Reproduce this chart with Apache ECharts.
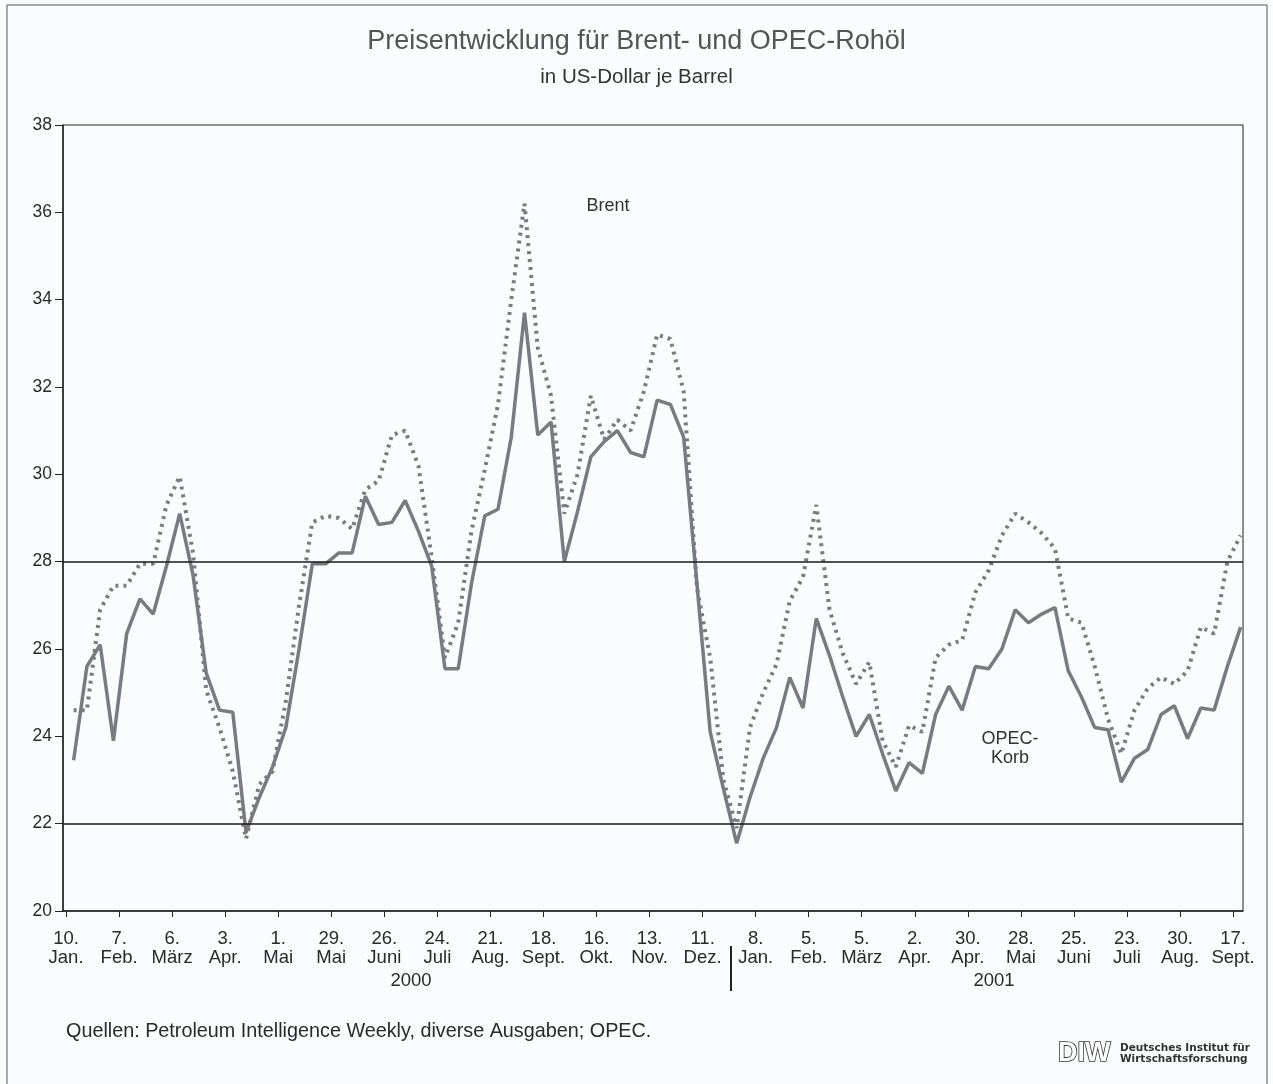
<!DOCTYPE html>
<html>
<head>
<meta charset="utf-8">
<script src="https://cdn.jsdelivr.net/npm/echarts@6/dist/echarts.min.js"></script>
<style>
  html, body { margin: 0; padding: 0; background: #fafcfd; }
  #chart01 { width: 1273px; height: 1084px; }
</style>
</head>
<body>
<div id="chart01"></div>
<script>
// Wochenwerte ab 14.1.2000 (Freitag), Achse in Wochen ab 10.1.2000
var tickDays   = ['10.', '7.', '6.', '3.', '1.', '29.', '26.', '24.', '21.', '18.', '16.', '13.',
                  '11.', '8.', '5.', '5.', '2.', '30.', '28.', '25.', '23.', '30.', '17.'];
var tickMonths = ['Jan.', 'Feb.', 'März', 'Apr.', 'Mai', 'Mai', 'Juni', 'Juli', 'Aug.', 'Sept.', 'Okt.', 'Nov.',
                  'Dez.', 'Jan.', 'Feb.', 'März', 'Apr.', 'Apr.', 'Mai', 'Juni', 'Juli', 'Aug.', 'Sept.'];
var years      = ['2000', '2001'];

var brent = [24.6, 24.6, 26.9, 27.45, 27.45, 27.95, 27.95, 29.3, 29.95, 28.2,
             25.05, 24.2, 23.2, 21.65, 22.9, 23.2, 24.8, 27.0, 28.9, 29.05,
             29.0, 28.75, 29.65, 29.85, 30.9, 31.0, 30.2, 28.1, 25.8, 26.6,
             28.7, 30.1, 31.6, 34.0, 36.2, 32.9, 31.8, 29.1, 30.0, 31.8,
             30.8, 31.25, 31.0, 31.9, 33.2, 33.1, 31.9, 27.4, 25.8, 23.0,
             21.9, 24.2, 25.0, 25.65, 27.1, 27.65, 29.3, 26.9, 25.9, 25.2,
             25.7, 23.9, 23.3, 24.25, 24.1, 25.8, 26.1, 26.2, 27.3, 27.8,
             28.6, 29.1, 28.9, 28.65, 28.3, 26.7, 26.6, 25.6, 24.4, 23.6,
             24.6, 25.1, 25.35, 25.2, 25.5, 26.5, 26.35, 28.0, 28.6];

var opec  = [23.45, 25.6, 26.1, 23.9, 26.35, 27.15, 26.8, 27.9, 29.1, 27.7,
             25.45, 24.6, 24.55, 21.8, 22.6, 23.3, 24.2, 26.0, 27.95, 27.95,
             28.2, 28.2, 29.5, 28.85, 28.9, 29.4, 28.7, 27.9, 25.55, 25.55,
             27.5, 29.05, 29.2, 30.85, 33.7, 30.9, 31.2, 28.0, 29.15, 30.4,
             30.75, 31.0, 30.5, 30.4, 31.7, 31.6, 30.85, 27.5, 24.1, 22.8,
             21.55, 22.6, 23.5, 24.2, 25.35, 24.65, 26.7, 25.85, 24.9, 24.0,
             24.5, 23.6, 22.75, 23.4, 23.15, 24.5, 25.15, 24.6, 25.6, 25.55,
             26.0, 26.9, 26.6, 26.8, 26.95, 25.5, 24.9, 24.2, 24.15, 22.95,
             23.5, 23.7, 24.5, 24.7, 23.95, 24.65, 24.6, 25.6, 26.5];

var refLines = [22, 28];

function toPoints(arr) {
    var pts = [];
    arr.forEach(function (v, i) {
        pts.push([i + 4 / 7, v]);
    });
    return pts;
}

var tickVals = [];
tickDays.forEach(function (d, i) { tickVals.push(i * 4); });

var lineGray = '#7b7982';
var fontMain = '"Liberation Sans", Arial, sans-serif';

(function () {
    "use strict";
    var cha01 = echarts.init(document.getElementById('chart01'));
    var opt01 = {
        backgroundColor: '#fafcfd',
        animation: false,
        title: {
            text: 'Preisentwicklung für Brent- und OPEC-Rohöl',
            subtext: 'in US-Dollar je Barrel',
            left: 'center',
            top: 23,
            itemGap: 12,
            textStyle: { fontFamily: fontMain, fontSize: 27, fontWeight: 'normal', color: '#555' },
            subtextStyle: { fontFamily: fontMain, fontSize: 20.5, color: '#333' }
        },
        grid: {
            left: 63, right: 30, top: 125, bottom: 173,
            show: true, borderColor: '#222', borderWidth: 1, backgroundColor: 'transparent'
        },
        xAxis: {
            type: 'value',
            min: -0.23,
            max: 88.75,
            axisLine: { show: true, onZero: false, lineStyle: { color: '#222', width: 1.5 } },
            axisTick: { show: true, length: 6, customValues: tickVals, lineStyle: { color: '#222' } },
            splitLine: { show: false },
            axisLabel: {
                customValues: tickVals,
                margin: 18,
                lineHeight: 19,
                fontFamily: fontMain,
                fontSize: 18.5,
                color: '#2a2a2a',
                formatter: function (v) {
                    var k = Math.round(v / 4);
                    return tickDays[k] + '\n' + tickMonths[k];
                }
            }
        },
        yAxis: {
            type: 'value',
            min: 20, max: 38, interval: 2,
            axisLine: { show: true, onZero: false, lineStyle: { color: '#222', width: 1.5 } },
            axisTick: { show: true, length: 8, lineStyle: { color: '#222' } },
            splitLine: { show: false },
            axisLabel: { margin: 11, fontFamily: fontMain, fontSize: 17.5, color: '#2a2a2a' }
        },
        series: [
            {
                name: 'Brent',
                type: 'line',
                data: toPoints(brent),
                symbol: 'none',
                lineStyle: { color: lineGray, width: 4, type: [3, 5] },
                z: 3
            },
            {
                name: 'OPEC-Korb',
                type: 'line',
                data: toPoints(opec),
                symbol: 'none',
                lineStyle: { color: lineGray, width: 3.5, type: 'solid' },
                z: 4,
                markLine: {
                    silent: true,
                    symbol: 'none',
                    label: { show: false },
                    lineStyle: { color: '#1a1a1a', width: 1.5, type: 'solid' },
                    data: refLines.map(function (v) { return { yAxis: v }; })
                }
            }
        ],
        graphic: [
            { type: 'rect', shape: { x: 7, y: 5, width: 1260, height: 1080 },
              style: { fill: 'none', stroke: '#555', lineWidth: 1 } },
            { type: 'text', x: 608, y: 206,
              style: { text: 'Brent', font: '18px ' + fontMain, fill: '#333', align: 'center', verticalAlign: 'middle' } },
            { type: 'text', x: 1010, y: 730,
              style: { text: 'OPEC-\nKorb', font: '18px ' + fontMain, fill: '#333', align: 'center', verticalAlign: 'top', lineHeight: 19 } },
            { type: 'text', x: 411, y: 981,
              style: { text: years[0], font: '18.5px ' + fontMain, fill: '#2a2a2a', align: 'center', verticalAlign: 'middle' } },
            { type: 'text', x: 994, y: 981,
              style: { text: years[1], font: '18.5px ' + fontMain, fill: '#2a2a2a', align: 'center', verticalAlign: 'middle' } },
            { type: 'line', shape: { x1: 731, y1: 946, x2: 731, y2: 991 },
              style: { stroke: '#222', lineWidth: 2 } },
            { type: 'text', x: 66, y: 1032,
              style: { text: 'Quellen: Petroleum Intelligence Weekly, diverse Ausgaben; OPEC.', font: '19.8px ' + fontMain, fill: '#2a2a2a', verticalAlign: 'middle' } },
            { type: 'text', x: 1058, y: 1054,
              style: { text: 'DIW', font: 'bold 27px ' + fontMain, fill: '#ffffff', stroke: '#333', lineWidth: 1.6, verticalAlign: 'middle' } },
            { type: 'text', x: 1120, y: 1054,
              style: { text: 'Deutsches Institut für\nWirtschaftsforschung', font: 'bold 10.5px "DejaVu Sans", sans-serif', fill: '#333', lineHeight: 11, verticalAlign: 'middle' } }
        ]
    };
    cha01.setOption(opt01);
})();
</script>
</body>
</html>
